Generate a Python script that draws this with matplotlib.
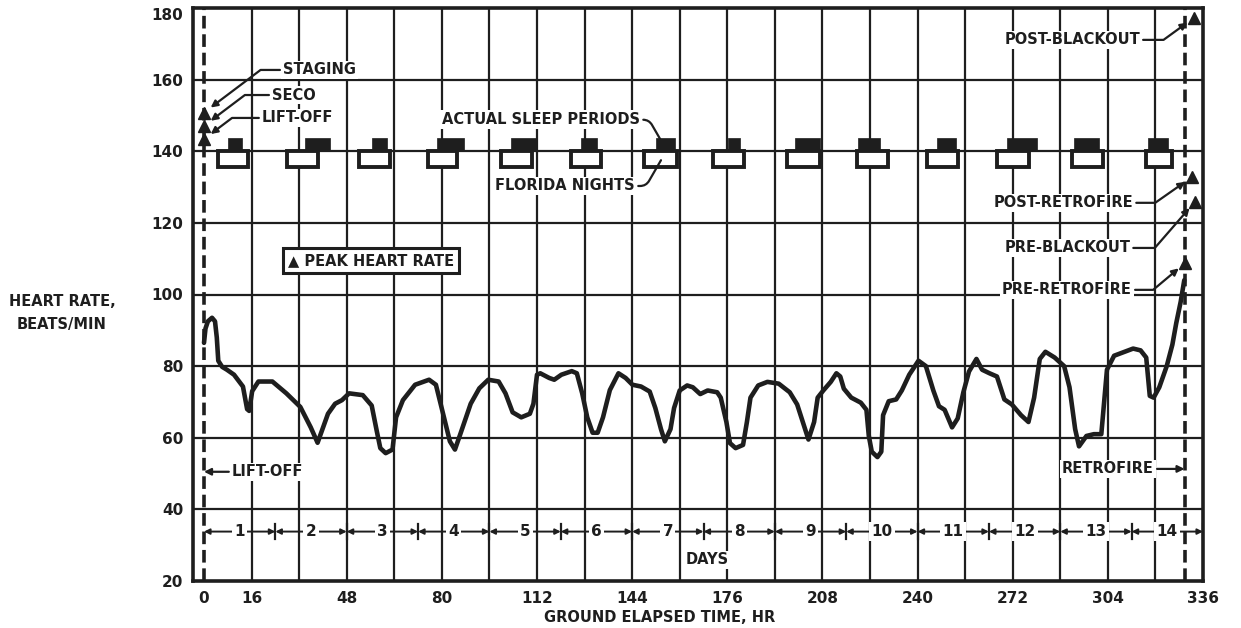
import matplotlib
matplotlib.use('Agg')
import matplotlib.pyplot as plt
from matplotlib.patches import Rectangle

plt.rcParams['font.family'] = ['DejaVu Sans']
plt.rcParams['font.weight'] = 'bold'

INK = '#1e1e1e'

# ---------------- data ----------------
hr_time = [0, 0.5, 1.3, 2.7, 3.7, 4.3, 4.8, 6.1, 7.7, 10.1, 13.1, 14.5, 15.2, 16.2, 18.3,
           23.0, 27.7, 32.4, 35.9, 38.2, 41.7, 44.1, 46.4, 48.8, 53.4, 56.4, 58.1, 59.3,
           61.1, 63.4, 64.6, 66.9, 71.0, 75.7, 78.0, 80.4, 82.7, 84.4, 86.2, 89.7, 92.6,
           95.6, 99.1, 101.4, 103.8, 106.7, 109.6, 110.8, 112.0, 113.1, 116.1, 117.8,
           120.2, 123.7, 125.4, 127.2, 128.9, 130.7, 132.4, 134.2, 136.5, 139.4, 141.8,
           144.1, 147.0, 149.9, 151.8, 153.7, 155.0, 156.9, 158.1, 160.0, 162.5, 164.4,
           166.9, 169.4, 172.6, 173.8, 175.7, 176.9, 178.8, 181.3, 182.6, 183.8, 186.4,
           189.5, 193.3, 197.0, 199.5, 201.4, 203.3, 205.2, 206.4, 208.3, 210.8, 212.7,
           214.0, 215.2, 217.7, 220.9, 222.8, 223.6, 224.6, 226.5, 227.8, 228.4, 230.3,
           232.8, 234.7, 237.2, 240.3, 242.8, 245.3, 247.2, 249.1, 251.6, 253.5, 255.4,
           257.3, 259.8, 261.7, 264.2, 266.7, 269.2, 271.7, 274.8, 277.3, 279.2, 281.1,
           283.0, 286.1, 289.3, 291.1, 293.0, 294.3, 296.8, 299.3, 301.8, 303.7, 306.1,
           309.3, 312.5, 315.0, 316.9, 318.1, 319.4, 321.3, 323.8, 325.7, 327.0, 328.5,
           329.7]
hr_rate = [86.5, 90.5, 92.5, 93.5, 92.5, 88.0, 81.5, 79.8, 79.0, 77.6, 74.3, 68.0, 67.5, 73.0, 75.7,
           75.7, 72.4, 68.6, 62.9, 58.6, 66.7, 69.5, 70.5, 72.4, 71.9, 69.0, 61.9, 57.1,
           55.7, 56.7, 65.7, 70.5, 74.8, 76.2, 74.8, 66.7, 59.0, 56.7, 61.0, 69.5, 73.8,
           76.2, 75.7, 72.4, 67.1, 65.7, 66.7, 69.5, 77.6, 78.0, 76.7, 76.2,
           77.6, 78.6, 78.0, 72.4, 65.7, 61.4, 61.4, 65.7, 73.3, 78.0, 76.7,
           74.8, 74.3, 72.9, 68.3, 62.4, 59.0, 62.4, 68.3, 73.2, 74.6, 74.1,
           72.2, 73.2, 72.7, 71.2, 64.4, 58.5, 57.1, 58.0, 64.4, 71.2, 74.6,
           75.6, 75.1, 72.7, 69.3, 64.4, 59.5, 64.4, 71.2, 73.2, 75.6, 78.0,
           77.1, 73.7, 71.2, 69.8, 67.8, 60.5, 56.1, 54.6, 56.1, 66.3, 70.2,
           70.7, 73.2, 77.6, 81.5, 80.0, 73.2, 68.8, 67.8, 62.9, 65.4, 72.7,
           78.5, 82.0, 79.0, 78.0, 77.1, 70.7, 69.3, 66.3, 64.4, 71.2, 82.0,
           84.0, 82.4, 80.0, 74.1, 62.4, 57.6, 60.5, 61.0, 61.0, 79.0, 82.9,
           83.9, 84.9, 84.4, 82.4, 71.7, 71.2, 74.1, 80.0, 86.0, 92.0, 98.0,
           104.0]

left_event_labels = ['STAGING', 'SECO', 'LIFT-OFF']
left_event_time = [0, 0, 0]
left_event_peak = [150.8, 147.1, 143.4]

right_event_labels = ['POST-BLACKOUT', 'POST-RETROFIRE', 'PRE-BLACKOUT', 'PRE-RETROFIRE']
right_event_time = [333.0, 332.3, 333.3, 330.0]
right_event_peak = [177.3, 132.8, 125.9, 108.8]

night_start = [4.7, 27.9, 52.3, 75.2, 100.0, 123.5, 148.0, 171.1, 196.0, 219.5, 243.3, 266.8, 292.0, 316.8]
night_end = [14.8, 38.3, 62.4, 85.2, 110.4, 133.6, 159.0, 181.5, 207.2, 230.2, 253.7, 277.5, 302.3, 325.5]
sleep_start = [8.0, 33.9, 56.4, 78.2, 103.4, 126.8, 152.0, 176.2, 198.7, 220.1, 246.6, 270.1, 292.6, 317.4]
sleep_end = [12.8, 42.3, 61.7, 87.6, 111.7, 132.2, 158.4, 180.2, 207.1, 227.5, 253.0, 280.2, 301.0, 324.2]

day_labels = [str(d) for d in range(1, 15)]
day_length_hr = 24

x_tick_values = [0, 16, 48, 80, 112, 144, 176, 208, 240, 272, 304, 336]
x_grid_values = list(range(16, 321, 16))
y_tick_values = [20, 40, 60, 80, 100, 120, 140, 160, 180]
y_grid_values = [40, 60, 80, 100, 120, 140, 160]

liftoff_hr = 0
retrofire_hr = 329.8

# ---------------- figure ----------------
W, H = 1241, 628
fig = plt.figure(figsize=(W / 100, H / 100), dpi=100)
fig.patch.set_facecolor('white')
ax = fig.add_axes([193 / W, 1 - 581 / H, (1203 - 193) / W, (581 - 8) / H])
ax.set_xlim(-3.7, 336)
ax.set_ylim(20, 180)

for s in ax.spines.values():
    s.set_linewidth(2.6)
    s.set_color(INK)

for v in y_grid_values:
    ax.axhline(v, color=INK, lw=1.6, zorder=1)
for h in x_grid_values:
    ax.axvline(h, color=INK, lw=1.6, zorder=1)

ax.set_xticks(x_tick_values)
ax.set_xticklabels([str(v) for v in x_tick_values], fontsize=11, fontweight='bold', color=INK)
ax.set_yticks(y_tick_values)
ax.set_yticklabels([str(v) for v in y_tick_values], fontsize=11, fontweight='bold', color=INK)
ax.tick_params(length=0, pad=7)
ax.get_yticklabels()[-1].set_va('top')

# dashed event lines
ax.axvline(liftoff_hr, color=INK, lw=2.6, ls=(0, (3.5, 1.6)), zorder=2)
ax.axvline(retrofire_hr, color=INK, lw=2.6, ls=(0, (3.5, 1.6)), zorder=2)

# Florida nights and sleep periods
for s, e in zip(night_start, night_end):
    ax.add_patch(Rectangle((s, 135.7), e - s, 4.3, fc='white', ec=INK, lw=2.8, zorder=3))
for s, e in zip(sleep_start, sleep_end):
    ax.add_patch(Rectangle((s, 140.3), e - s, 3.4, fc=INK, ec=INK, lw=0.5, zorder=3))

# heart rate curve
ax.plot(hr_time, hr_rate, color=INK, lw=3.3, solid_joinstyle='round',
        solid_capstyle='round', zorder=4)

# peak markers
ax.plot(left_event_time, left_event_peak, '^', ms=9, color=INK, zorder=5)
ax.plot(right_event_time, right_event_peak, '^', ms=9, color=INK, zorder=5)

txt = dict(fontsize=10.5, fontweight='bold', color=INK, zorder=6)
wbox = dict(boxstyle='square,pad=0.12', fc='white', ec='none')
arrow = dict(arrowstyle='-|>', color=INK, lw=1.6, mutation_scale=10, shrinkA=1, shrinkB=6)

# left event leaders
left_text_pos = [(26.6, 162.7), (22.9, 155.7), (19.5, 149.3)]
for lab, (tx, ty), ey in zip(left_event_labels, left_text_pos, left_event_peak):
    ax.annotate(lab, xy=(0, ey), xytext=(tx, ty), ha='left', va='center', bbox=wbox,
                arrowprops=dict(arrow, relpos=(0, 0.5),
                                connectionstyle='angle,angleA=180,angleB=37,rad=0'),
                **txt)

# right event leaders
right_text_pos = [(314.8, 171.1), (312.5, 125.6), (311.5, 113.0), (312.1, 101.3)]
right_angles = [36, 35, 49, 40]
for lab, (tx, ty), ex, ey, ang in zip(right_event_labels, right_text_pos, right_event_time,
                                      right_event_peak, right_angles):
    ax.annotate(lab, xy=(ex, ey), xytext=(tx, ty), ha='right', va='center', bbox=wbox,
                arrowprops=dict(arrow, relpos=(1, 0.5),
                                connectionstyle=f'angle,angleA=0,angleB={ang},rad=0'),
                **txt)

# sleep / night leaders
ax.annotate('ACTUAL SLEEP PERIODS', xy=(153.7, 143.0), xytext=(146.7, 148.8), ha='right',
            va='center', bbox=wbox,
            arrowprops=dict(arrowstyle='-', color=INK, lw=1.6, relpos=(1, 0.5), shrinkA=1, shrinkB=0,
                            connectionstyle='angle,angleA=0,angleB=-60,rad=6'), **txt)
ax.annotate('FLORIDA NIGHTS', xy=(153.7, 137.5), xytext=(145.0, 130.3), ha='right',
            va='center', bbox=wbox,
            arrowprops=dict(arrowstyle='-', color=INK, lw=1.6, relpos=(1, 0.5), shrinkA=1, shrinkB=0,
                            connectionstyle='angle,angleA=0,angleB=60,rad=6'), **txt)

# legend box
ax.text(56.2, 109.4, '\u25B2 PEAK HEART RATE', ha='center', va='center',
        bbox=dict(boxstyle='square,pad=0.35', fc='white', ec=INK, lw=2.2), **txt)

# lift-off / retrofire labels near bottom
ax.annotate('LIFT-OFF', xy=(liftoff_hr, 50.5), xytext=(9.4, 50.5), ha='left', va='center',
            bbox=wbox, arrowprops=dict(arrow, relpos=(0, 0.5), shrinkB=0), **txt)
ax.annotate('RETROFIRE', xy=(retrofire_hr, 51.3), xytext=(319.5, 51.3), ha='right', va='center',
            bbox=wbox, arrowprops=dict(arrow, relpos=(1, 0.5), shrinkB=0), **txt)

# days bar
yb = 33.8
for i, lab in enumerate(day_labels):
    s = i * day_length_hr
    e = s + day_length_hr
    m = s + day_length_hr / 2
    for b in (s, e):
        ax.annotate('', xy=(b, yb), xytext=(m, yb),
                    arrowprops=dict(arrowstyle='-|>', color=INK, lw=1.4, mutation_scale=8,
                                    shrinkA=0, shrinkB=0), zorder=5)
    ax.text(m, yb, lab, ha='center', va='center', fontsize=11, fontweight='bold', color=INK,
            bbox=dict(boxstyle='square,pad=0.15', fc='white', ec='none'), zorder=6)
    if i > 0:
        ax.plot([s, s], [yb - 2.2, yb + 2.2], color=INK, lw=1.6, zorder=5)
ax.plot([day_length_hr * len(day_labels)] * 2, [yb - 2.2, yb + 2.2], color=INK, lw=1.6, zorder=5)
ax.text(169.2, 25.9, 'DAYS', ha='center', va='center', bbox=wbox, **txt)

# axis titles
fig.text(62 / W, 1 - 313 / H, 'HEART RATE,\nBEATS/MIN', ha='center', va='center',
         fontsize=10.5, fontweight='bold', color=INK, linespacing=1.7)
fig.text(660 / W, 1 - 617 / H, 'GROUND ELAPSED TIME, HR', ha='center', va='center',
         fontsize=10.5, fontweight='bold', color=INK)

fig.savefig('out.png', dpi=100, facecolor='white')
